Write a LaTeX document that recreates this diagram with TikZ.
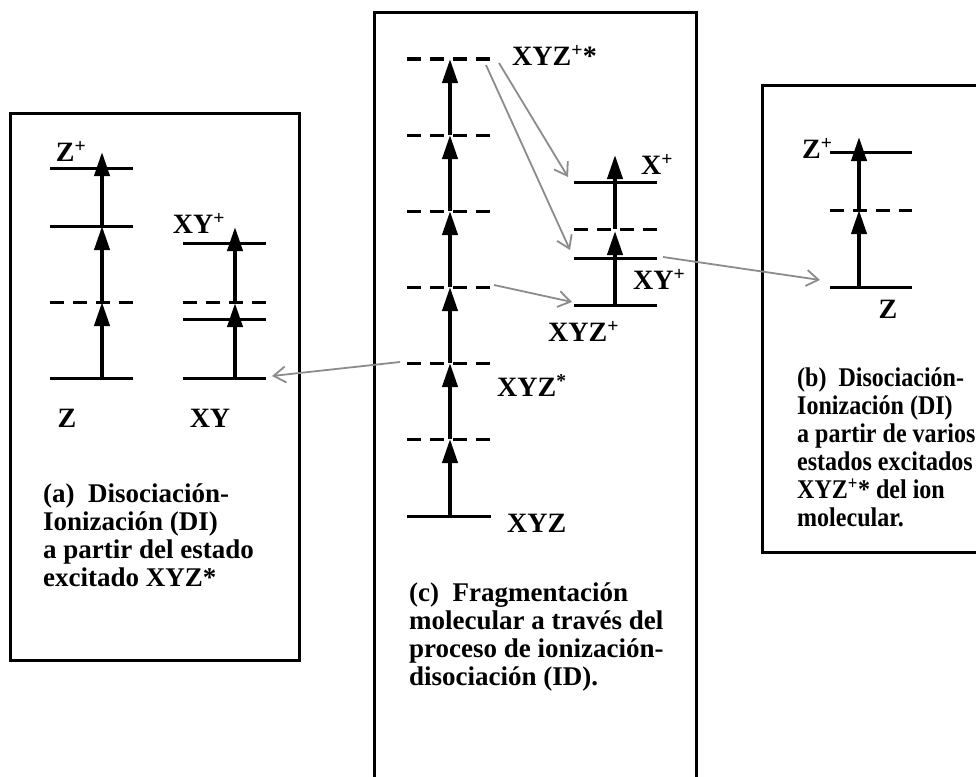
\documentclass[tikz,border=0pt]{standalone}
\usepackage{fontspec}
\setmainfont{Liberation Serif}
\newfontfamily\condserif[FakeStretch=0.89]{Liberation Serif}
\usetikzlibrary{arrows.meta}
\begin{document}
\begin{tikzpicture}[x=1pt,y=-1pt,
  lev/.style={line width=3pt},
  dlev/.style={line width=3pt,dash pattern=on 14pt off 9pt},
  up/.style={line width=4pt,-{Triangle[width=15pt,length=24pt]}},
  gr/.style={draw={rgb,255:red,140;green,140;blue,140},line width=1.8pt,-{Straight Barb[length=12pt,width=16pt]}},
  frame/.style={line width=3pt},
  lbl/.style={font=\fontsize{28}{30}\selectfont\bfseries,inner sep=0pt},
  captxt/.style={font=\fontsize{27}{27.7}\selectfont\bfseries,align=left,inner sep=0pt,anchor=north west},
  captxtb/.style={font=\condserif\fontsize{27}{28}\selectfont\bfseries,align=left,inner sep=0pt,anchor=north west}]
\useasboundingbox (0,0) rectangle (976,776);
\clip (0,0) rectangle (976,776);
\fill[white] (0,0) rectangle (976,776);
% frames
\draw[frame] (10,113) rectangle (299,660);
\draw[frame] (374,790) -- (374,13) -- (696,13) -- (696,790);
\draw[frame] (990,85) -- (762,85) -- (762,552) -- (990,552);
% ---- left box (a)
\draw[lev] (50,168) -- (133,168);
\draw[lev] (50,226) -- (133,226);
\draw[dlev] (50,302) -- (133,302);
\draw[lev] (50,378) -- (133,378);
\coordinate (za0) at (102,378);
\coordinate (za1) at (102,302);
\coordinate (za2) at (102,226);
\coordinate (za3) at (102,152);
\draw[up] (za0) -- (za1);
\draw[up] (za1) -- (za2);
\draw[up] (za2) -- (za3);
\draw[lev] (183,243) -- (266,243);
\draw[dlev] (183,302) -- (266,302);
\draw[lev] (183,319) -- (266,319);
\draw[lev] (183,378) -- (266,378);
\coordinate (xa0) at (235,378);
\coordinate (xa1) at (235,303);
\coordinate (xa1b) at (235,302);
\coordinate (xa2) at (235,227);
\draw[up] (xa0) -- (xa1);
\draw[up] (xa1b) -- (xa2);
\node[lbl] (zpa) at (71,151) {Z\textsuperscript{+}};
\node[lbl] (xypa) at (199,223) {XY\textsuperscript{+}};
\node[lbl] (za) at (67,418) {Z};
\node[lbl] (xya) at (210,418) {XY};
\node[captxt] (capa) at (43,484) {(a)~~Disociación-\\Ionización (DI)\\a partir del estado\\excitado XYZ*};
% ---- middle box (c)
\foreach \y in {59,135,211,287,363,439} {\draw[dlev] (407,\y) -- (491,\y);}
\draw[lev] (407,516) -- (491,516);
\coordinate (m0) at (450,516);
\coordinate (m1) at (450,439);
\coordinate (m2) at (450,363);
\coordinate (m3) at (450,287);
\coordinate (m4) at (450,211);
\coordinate (m5) at (450,135);
\coordinate (m6) at (450,59);
\draw[up] (m0) -- (m1);
\draw[up] (m1) -- (m2);
\draw[up] (m2) -- (m3);
\draw[up] (m3) -- (m4);
\draw[up] (m4) -- (m5);
\draw[up] (m5) -- (m6);
\node[lbl,anchor=west] (xyzps) at (512,55) {XYZ\textsuperscript{+}*};
\node[lbl,anchor=west] (xyzs) at (497,386) {XYZ\textsuperscript{*}};
\node[lbl,anchor=west] (xyz) at (507,523) {XYZ};
\draw[lev] (574,182) -- (657,182);
\draw[dlev] (574,229) -- (657,229);
\draw[lev] (574,258) -- (657,258);
\draw[lev] (574,305) -- (657,305);
\coordinate (r0) at (615,305);
\coordinate (r1) at (615,231);
\coordinate (r1b) at (615,229);
\coordinate (r2) at (615,155);
\draw[up] (r0) -- (r1);
\draw[up] (r1b) -- (r2);
\node[lbl,anchor=west] (xp) at (641,164) {X\textsuperscript{+}};
\node[lbl,anchor=west] (xypc) at (633,279) {XY\textsuperscript{+}};
\node[lbl,anchor=west] (xyzp) at (548,331) {XYZ\textsuperscript{+}};
\node[captxt] (capc) at (409,583) {(c)~~Fragmentación\\molecular a través del\\proceso de ionización-\\disociación (ID).};
% ---- right box (b)
\draw[lev] (830,152) -- (912,152);
\draw[dlev] (830,210) -- (912,210);
\draw[lev] (830,287) -- (912,287);
\coordinate (b0) at (859,287);
\coordinate (b1) at (859,210);
\coordinate (b2) at (859,137);
\draw[up] (b0) -- (b1);
\draw[up] (b1) -- (b2);
\node[lbl,anchor=west] (zpb) at (802,148) {Z\textsuperscript{+}};
\node[lbl] (zb) at (888,309) {Z};
\node[captxtb] (capb) at (797,368) {(b)~~Disociación-\\Ionización (DI)\\a partir de varios\\estados excitados\\XYZ\textsuperscript{+}* del ion\\molecular.};
% ---- gray transfer arrows
\coordinate (g1s) at (499,63);  \coordinate (g1e) at (568,177);
\coordinate (g2s) at (486,65);  \coordinate (g2e) at (570,250);
\coordinate (g3s) at (494,285); \coordinate (g3e) at (572,302);
\coordinate (g4s) at (663,257); \coordinate (g4e) at (820,280);
\coordinate (g5s) at (400,362); \coordinate (g5e) at (272,376);
\draw[gr] (g1s) -- (g1e);
\draw[gr] (g2s) -- (g2e);
\draw[gr] (g3s) -- (g3e);
\draw[gr] (g4s) -- (g4e);
\draw[gr] (g5s) -- (g5e);
\end{tikzpicture}
\end{document}
